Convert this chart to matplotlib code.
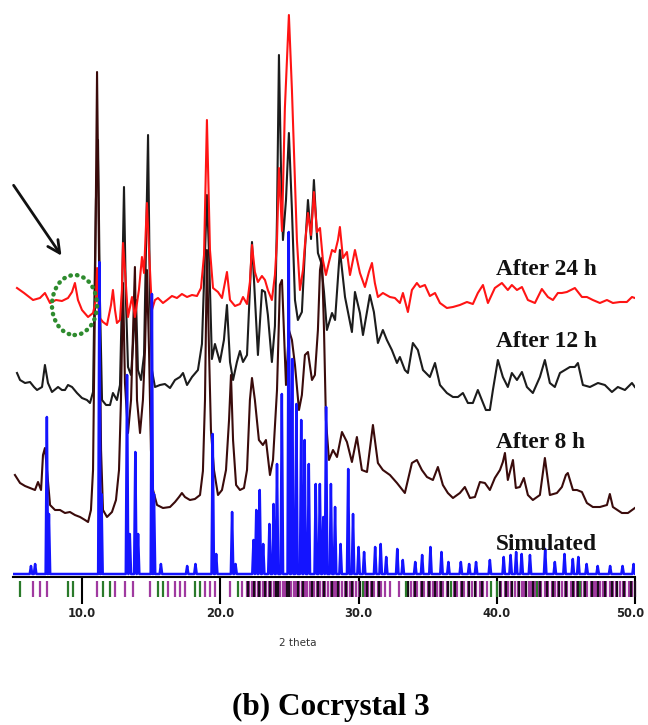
import matplotlib
matplotlib.use("Agg")
import matplotlib.pyplot as plt
from matplotlib.patches import Ellipse
from matplotlib.transforms import ScaledTranslation

# ---------------- data (2-theta in degrees, intensity in arbitrary units incl. stacking offset) -------------
red_x = [5.29, 5.80, 6.45, 6.95, 7.31, 7.68, 8.11, 8.54, 8.98, 9.27, 9.48, 9.70, 9.99, 10.43, 10.79, 11.00, 11.08,
         11.22, 11.51, 11.80, 12.09, 12.23, 12.38, 12.52, 12.74, 12.88, 12.96, 13.10, 13.32, 13.61, 13.82, 14.11,
         14.33, 14.48, 14.69, 14.84, 15.05, 15.27, 15.49, 15.85, 16.14, 16.50, 16.86, 17.22, 17.59, 17.95, 18.31,
         18.60, 18.82, 19.03, 19.25, 19.47, 19.83, 20.12, 20.48, 20.70, 21.06, 21.42, 21.64, 21.93, 22.14, 22.29,
         22.50, 22.72, 23.01, 23.23, 23.44, 23.73, 23.95, 24.10, 24.24, 24.46, 24.67, 24.96, 25.18, 25.40, 25.54,
         25.76, 25.98, 26.12, 26.34, 26.56, 26.77, 26.99, 27.21, 27.42, 27.64, 27.86, 28.08, 28.30, 28.51, 28.65,
         28.87, 29.16, 29.38, 29.74, 30.10, 30.46, 30.75, 30.97, 31.18, 31.40, 31.76, 32.27, 32.63, 32.99, 33.21,
         33.57, 33.86, 34.22, 34.44, 34.80, 35.16, 35.53, 35.89, 36.39, 36.83, 37.33, 37.84, 38.27, 38.63, 39.00,
         39.36, 39.86, 40.37, 40.80, 41.09, 41.46, 41.82, 42.25, 42.76, 43.26, 43.70, 44.06, 44.42, 44.71, 45.07,
         45.65, 46.16, 46.52, 46.95, 47.46, 47.97, 48.40, 48.91, 49.41, 49.78, 49.99]
red_y = [289, 284, 277, 279, 284, 274, 277, 276, 279, 285, 294, 277, 267, 260, 264, 277, 309,
         260, 255, 252, 272, 287, 267, 254, 257, 287, 334, 307, 260, 280, 260, 287,
         320, 304, 374, 327, 267, 277, 279, 274, 277, 281, 279, 283, 280, 282, 281,
         289, 322, 457, 327, 289, 285, 279, 305, 277, 271, 273, 280, 273, 295, 332,
         305, 295, 301, 297, 287, 277, 302, 337, 409, 346, 469, 562, 487, 397, 337,
         287, 307, 332, 364, 342, 385, 345, 349, 317, 302, 315, 327, 325, 337, 350,
         319, 325, 302, 327, 304, 290, 305, 314, 294, 280, 284, 280, 279, 274, 284,
         265, 287, 294, 290, 292, 281, 284, 274, 269, 270, 272, 275, 273, 284, 292,
         274, 289, 294, 287, 292, 287, 290, 277, 274, 288, 280, 277, 284, 284, 285,
         289, 280, 280, 277, 274, 277, 274, 275, 275, 280, 279]

black_x = [5.29, 5.51, 5.87, 6.23, 6.52, 6.74, 7.10, 7.31, 7.53, 7.82, 8.26, 8.54, 8.76, 8.98, 9.27, 9.63, 9.99,
           10.35, 10.57, 10.79, 11.00, 11.15, 11.29, 11.44, 11.73, 12.02, 12.23, 12.52, 12.74, 12.88, 13.03, 13.17,
           13.32, 13.54, 13.75, 13.90, 14.04, 14.26, 14.48, 14.62, 14.77, 14.91, 15.05, 15.27, 15.63, 15.99, 16.36,
           16.72, 17.08, 17.30, 17.59, 17.95, 18.38, 18.67, 18.89, 19.03, 19.18, 19.39, 19.61, 19.97, 20.26, 20.48,
           20.70, 20.92, 21.20, 21.42, 21.64, 21.93, 22.14, 22.29, 22.50, 22.72, 23.01, 23.23, 23.44, 23.73, 23.95,
           24.10, 24.24, 24.39, 24.53, 24.75, 24.96, 25.18, 25.40, 25.61, 25.90, 26.12, 26.34, 26.56, 26.77, 27.06,
           27.28, 27.50, 27.71, 28.08, 28.30, 28.65, 29.02, 29.52, 29.74, 30.10, 30.32, 30.82, 31.11, 31.40, 31.76,
           32.05, 32.41, 32.78, 32.99, 33.35, 33.57, 33.93, 34.29, 34.66, 35.16, 35.53, 35.89, 36.39, 36.83, 37.19,
           37.55, 37.91, 38.27, 38.63, 38.92, 39.21, 39.50, 39.72, 40.08, 40.44, 40.80, 41.09, 41.46, 41.82, 42.18,
           42.61, 43.12, 43.48, 43.84, 44.20, 44.57, 44.93, 45.29, 45.65, 45.87, 46.23, 46.74, 47.32, 47.82, 48.33,
           48.76, 49.27, 49.78, 49.99]
black_y = [204, 197, 194, 195, 190, 187, 190, 212, 194, 185, 190, 187, 187, 192, 190, 184, 179,
           177, 174, 185, 377, 437, 277, 177, 172, 172, 184, 177, 192, 277, 390, 277,
           210, 202, 247, 277, 207, 197, 222, 327, 442, 277, 207, 190, 192, 193, 189,
           197, 200, 204, 192, 200, 207, 233, 324, 382, 324, 218, 233, 215, 237, 272,
           215, 197, 215, 226, 215, 222, 287, 335, 280, 222, 287, 285, 262, 215, 251,
           360, 522, 407, 337, 377, 444, 367, 277, 257, 265, 327, 377, 338, 397, 324,
           315, 285, 247, 264, 257, 327, 280, 245, 285, 264, 242, 282, 265, 234, 247,
           237, 227, 214, 220, 207, 204, 234, 227, 207, 200, 214, 192, 184, 180, 180,
           184, 174, 174, 187, 177, 167, 167, 187, 217, 200, 190, 204, 197, 205, 190,
           184, 200, 217, 194, 190, 204, 207, 210, 210, 214, 192, 190, 194, 192, 185,
           190, 187, 194, 190]

brown_x = [5.14, 5.51, 5.87, 6.23, 6.59, 6.81, 7.03, 7.17, 7.31, 7.46, 7.68, 8.04, 8.40, 8.76, 9.12, 9.48, 9.85,
           10.21, 10.43, 10.64, 10.79, 10.93, 11.08, 11.22, 11.37, 11.51, 11.80, 12.16, 12.45, 12.67, 12.81, 12.96,
           13.10, 13.32, 13.54, 13.75, 13.82, 13.97, 14.19, 14.40, 14.55, 14.69, 14.84, 14.98, 15.13, 15.42, 15.85,
           16.36, 16.72, 17.01, 17.22, 17.44, 17.80, 18.16, 18.53, 18.74, 18.89, 19.03, 19.18, 19.32, 19.54, 19.83,
           20.12, 20.41, 20.63, 20.77, 20.92, 21.14, 21.42, 21.71, 21.93, 22.14, 22.29, 22.50, 22.79, 23.08, 23.30,
           23.59, 23.81, 24.10, 24.31, 24.46, 24.60, 24.75, 24.96, 25.18, 25.40, 25.69, 25.90, 26.12, 26.34, 26.63,
           26.84, 27.06, 27.21, 27.35, 27.50, 27.64, 27.86, 28.15, 28.44, 28.80, 29.16, 29.52, 29.88, 30.24, 30.61,
           31.04, 31.40, 31.76, 32.27, 32.78, 33.35, 33.86, 34.22, 34.58, 34.95, 35.38, 35.74, 36.10, 36.46, 36.83,
           37.33, 37.69, 38.06, 38.42, 38.78, 39.14, 39.50, 39.86, 40.23, 40.44, 40.59, 40.80, 41.17, 41.38, 41.67,
           41.96, 42.25, 42.61, 43.12, 43.48, 43.84, 44.35, 44.71, 45.00, 45.14, 45.51, 45.80, 46.16, 46.52, 46.95,
           47.46, 47.97, 48.18, 48.40, 49.05, 49.49, 49.99]
brown_y = [102, 94, 91, 89, 87, 95, 87, 122, 129, 107, 72, 67, 67, 64, 65, 62, 60,
           57, 55, 67, 107, 277, 505, 327, 127, 67, 60, 65, 77, 107, 177, 294,
           194, 144, 177, 277, 310, 177, 144, 177, 227, 307, 227, 127, 87, 72, 69,
           70, 75, 80, 84, 80, 77, 78, 82, 106, 177, 327, 227, 147, 107, 82,
           87, 107, 157, 202, 137, 92, 87, 89, 107, 177, 199, 177, 137, 132, 137,
           102, 117, 187, 292, 297, 247, 192, 247, 237, 212, 167, 182, 222, 225, 197,
           202, 247, 307, 319, 247, 157, 117, 127, 120, 145, 135, 115, 140, 107, 105,
           152, 114, 107, 102, 94, 84, 114, 117, 107, 100, 97, 110, 92, 84, 79,
           84, 90, 79, 80, 95, 94, 87, 99, 107, 115, 124, 97, 117, 89, 90,
           99, 82, 77, 82, 119, 82, 84, 90, 102, 104, 87, 87, 85, 74, 70,
           70, 72, 83, 70, 64, 64, 69]

sim_base = 3
sim_pos = [6.3, 6.6, 7.45, 7.6, 11.25, 11.4, 13.25, 13.45, 13.85, 14.05, 15.05, 15.2, 15.7, 17.6, 18.2, 19.45,
           19.7, 20.85, 21.1, 22.4, 22.6, 22.85, 23.1, 23.55, 23.85, 24.1, 24.45, 24.95, 25.2, 25.5, 25.85, 26.1,
           26.4, 26.9, 27.2, 27.45, 27.65, 28.0, 28.3, 28.7, 29.25, 29.6, 30.0, 30.4, 31.2, 31.6, 32.0, 32.8, 33.2,
           34.1, 34.6, 35.2, 36.0, 36.5, 37.4, 38.0, 38.5, 39.5, 40.5, 41.0, 41.4, 41.8, 42.4, 43.5, 44.2, 44.9,
           45.5, 45.9, 46.5, 47.3, 48.2, 49.1, 49.9]
sim_int = [8, 10, 157, 60, 312, 80, 199, 40, 122, 40, 280, 80, 10, 8, 10, 140,
           20, 62, 10, 34, 64, 84, 30, 50, 70, 110, 180, 342, 215, 170, 154, 134,
           110, 90, 90, 57, 167, 90, 67, 30, 105, 60, 27, 22, 27, 30, 17, 25, 14,
           12, 19, 27, 22, 12, 12, 10, 12, 14, 17, 19, 22, 20, 19, 25, 12, 20,
           15, 17, 10, 8, 8, 8, 10]

green_ticks = [5.5, 8.98, 9.34, 11.51, 12.02, 15.49, 15.85, 18.16, 18.53, 21.27, 30.3, 33.4, 36.7, 39.6, 40.0,
               42.9, 46.0]
magenta_ticks = [6.45, 6.95, 7.46, 11.08, 12.38, 13.10, 13.68, 14.91, 16.21, 16.72, 17.08, 17.44, 18.89, 19.25,
                 19.61, 20.70, 21.6, 21.9, 22.1, 22.3, 22.5, 22.7, 22.9, 23.1, 23.3, 23.5, 23.7, 23.9, 24.1, 24.3,
                 24.5, 24.7, 24.9, 25.1, 25.3, 25.5, 25.7, 25.9, 26.1, 26.3, 26.5, 26.8, 27.0, 27.2, 27.4, 27.6,
                 27.8, 28.0, 28.2, 28.4, 28.6, 28.8, 29.0, 29.2, 29.4, 29.6, 29.8, 30.0, 30.5, 30.7, 30.9, 31.1,
                 31.4, 31.6, 31.9, 32.3, 32.9, 33.5, 33.8, 34.0, 34.2, 34.5, 34.7, 35.0, 35.2, 35.4, 35.7, 35.9,
                 36.1, 36.4, 36.9, 37.1, 37.4, 37.6, 37.9, 38.2, 38.5, 38.8, 39.0, 39.3, 40.3, 40.6, 40.8, 41.0,
                 41.3, 41.5, 41.8, 42.0, 42.3, 42.5, 42.8, 43.0, 43.2, 43.5, 43.7, 44.0, 44.2, 44.4, 44.7, 44.9,
                 45.1, 45.4, 45.6, 45.8, 46.1, 46.3, 46.5, 46.8, 47.0, 47.2, 47.5, 47.7, 47.9, 48.2, 48.4, 48.6,
                 48.9, 49.1, 49.3, 49.6, 49.8]
black_ticks = [22.0, 22.4, 22.8, 23.2, 23.6, 24.0, 24.2, 24.8, 25.0, 25.6, 26.0, 26.6, 27.1, 27.5, 28.1, 28.5,
               29.1, 29.5, 30.1, 30.6, 31.0, 31.5, 33.6, 34.1, 34.6, 35.1, 35.5, 36.0, 36.5, 37.0, 37.5, 38.0,
               38.4, 38.9, 40.2, 40.7, 41.1, 41.6, 42.1, 42.6, 43.1, 43.6, 44.1, 44.5, 45.0, 45.5, 45.9, 46.4,
               46.9, 47.3, 47.8, 48.3, 48.7, 49.2, 49.7, 50.0]

xticks = [10.0, 20.0, 30.0, 40.0, 50.0]
xticklabels = ["10.0", "20.0", "30.0", "40.0", "50.0"]
series_labels = ["After 24 h", "After 12 h", "After 8 h", "Simulated"]
label_levels = [302, 230, 129, 27]
title_text = "(b) Cocrystal 3"
xlabel_text = "2 theta"

# ---------------- figure ----------------
W, H = 648, 725
fig = plt.figure(figsize=(W / 100, H / 100), dpi=100)
fig.patch.set_facecolor("white")
ax = fig.add_axes([13 / W, (H - 577) / H, 622 / W, 577 / H])
ax.set_xlim(5, 50)
ax.set_ylim(0, 577)

ax.plot(black_x, black_y, color="#1c1c1c", lw=1.5, zorder=2, solid_joinstyle="round")
ax.plot(brown_x, brown_y, color="#3a0b0b", lw=1.5, zorder=3, solid_joinstyle="round")
ax.plot(red_x, red_y, color="#ff1414", lw=1.5, zorder=4, solid_joinstyle="round")

# simulated pattern: narrow peaks on a flat baseline
sx, sy = [5.0], [sim_base]
hw = 0.09
for p, h in zip(sim_pos, sim_int):
    sx += [p - hw, p, p + hw]
    sy += [sim_base, sim_base + h, sim_base]
sx.append(50.0)
sy.append(sim_base)
ax.plot(sx, sy, color="#1414ff", lw=1.8, zorder=5)

# reflection tick marks below axis
ax.vlines(magenta_ticks, -20, -4, colors="#a03aa0", lw=1.6, clip_on=False, zorder=6)
ax.vlines(black_ticks, -20, -4, colors="#1a0a1a", lw=1.6, clip_on=False, zorder=7)
ax.vlines(green_ticks, -20, -4, colors="#2a7a2a", lw=1.6, clip_on=False, zorder=8)

for s in ["top", "left", "right"]:
    ax.spines[s].set_visible(False)
ax.spines["bottom"].set_linewidth(1.5)
ax.spines["bottom"].set_color("black")
ax.set_yticks([])
ax.set_xticks(xticks)
ax.set_xticklabels(xticklabels, fontsize=9.2, fontweight="bold", color="#222222",
                   family="DejaVu Sans", fontstretch="condensed")
ax.tick_params(axis="x", direction="out", length=19.5, width=1.5, pad=2, color="black")
ax.patch.set_alpha(0)
last = ax.get_xticklabels()[-1]
last.set_transform(last.get_transform() + ScaledTranslation(-5 / 100, 0, fig.dpi_scale_trans))

# series labels
for txt, lv in zip(series_labels, label_levels):
    ax.text(39.93, lv, txt, fontsize=16.8, fontweight="bold", family="Liberation Serif",
            ha="left", va="baseline", color="#111111", zorder=10)

# arrow and dotted ellipse
ax.annotate("", xy=(8.62, 319), xytext=(4.93, 394),
            arrowprops=dict(arrowstyle="->", lw=2.0, color="#111111", mutation_scale=22),
            annotation_clip=False)
ell = Ellipse((9.45, 272), 3.26, 60, fill=False, edgecolor="#2e8b2e", lw=3.2,
              linestyle=(0, (0.1, 1.4)), zorder=9)
ell.set_capstyle("round")
ax.add_patch(ell)

fig.text(298 / W, 1 - 643 / H, xlabel_text, fontsize=7.5, color="#333333", ha="center", va="center")
fig.text(331 / W, 1 - 715 / H, title_text, fontsize=22.5, fontweight="bold", family="Liberation Serif",
         ha="center", va="baseline", color="black")

fig.savefig("out.png", dpi=100, facecolor="white")
